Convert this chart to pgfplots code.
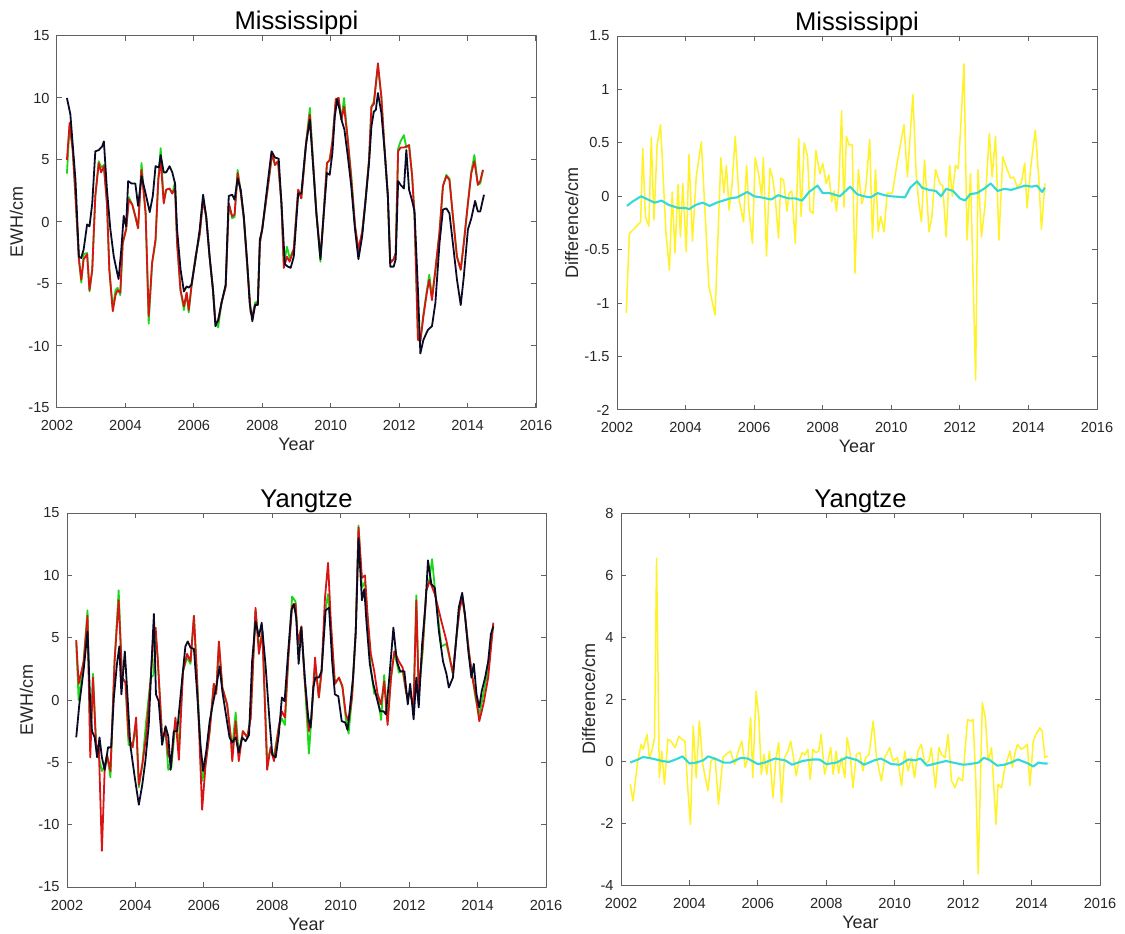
\documentclass[border=0pt]{standalone}
\usepackage{fontspec}
\setmainfont{Liberation Sans}
\usepackage{pgfplots}
\pgfplotsset{compat=1.18}

\definecolor{mgreen}{rgb}{0.1,0.85,0.1}
\definecolor{mred}{rgb}{0.85,0.08,0.08}
\definecolor{mblack}{rgb}{0.04,0.04,0.14}
\definecolor{myellow}{rgb}{1,0.95,0.15}
\definecolor{mcyan}{rgb}{0.2,0.85,0.85}
\definecolor{axgray}{rgb}{0.38,0.38,0.38}
\definecolor{txtgray}{rgb}{0.15,0.15,0.15}

\pgfplotsset{
  matstyle/.style={
    scale only axis, width=239.5pt, height=186.5pt,
    anchor=south west,
    xmin=2002, xmax=2016, xtick={2002,2004,...,2016},
    tick align=inside, tick pos=both, major tick length=2.3pt,
    axis line style={axgray, line width=0.5pt},
    every tick/.style={axgray, line width=0.5pt},
    /pgf/number format/assume math mode=true,
    /pgf/number format/1000 sep={},
    ticklabel style={font=\fontsize{7.3}{8}\selectfont, text=txtgray},
    xticklabel style={anchor=base, yshift=-11.5pt, inner sep=0pt},
    yticklabel style={anchor=east, inner sep=0pt, xshift=-3.5pt},
    every axis title/.style={font=\fontsize{12.8}{14}\selectfont, at={(axis description cs:0.5,1)}, anchor=base, yshift=3pt},
    every axis x label/.style={font=\fontsize{9}{10}\selectfont, text=txtgray, at={(axis description cs:0.5,0)}, anchor=base, yshift=-21.5pt},
    xlabel={Year},
    line join=round,
  },
  ylab/.style={every axis y label/.style={font=\fontsize{9}{10}\selectfont, text=txtgray,
    at={([xshift=-#1]axis description cs:0,0.5)}, rotate=90, anchor=base}},
  gline/.style={mgreen, line width=0.9pt},
  rline/.style={mred, line width=0.9pt},
  kline/.style={mblack, line width=0.9pt},
  yline/.style={myellow, line width=0.75pt},
  cline/.style={mcyan, line width=1.05pt},
}

\begin{document}
\begin{tikzpicture}
\useasboundingbox (0,0) rectangle (562.5pt,466.5pt);

% ---------- top left: Mississippi EWH ----------
\begin{axis}[matstyle, at={(28.5pt,262.5pt)}, height=186pt,
  ymin=-15, ymax=15, ytick={-15,-10,...,15},
  title={Mississippi}, ylabel={EWH/cm}, ylab=17pt]
\addplot[gline] coordinates {(2002.29,3.9)(2002.37,7.8)(2002.46,5.8)(2002.54,2.1)(2002.64,-3.0)(2002.71,-4.9)(2002.78,-2.6)(2002.88,-2.5)(2002.95,-5.6)(2003.03,-3.85)(2003.12,2.1)(2003.22,4.9)(2003.29,4.4)(2003.37,4.6)(2003.46,1.5)(2003.53,-3.85)(2003.63,-7.0)(2003.71,-5.5)(2003.77,-5.3)(2003.85,-5.9)(2003.92,-1.7)(2004.02,-0.6)(2004.10,2.0)(2004.20,1.4)(2004.29,0.45)(2004.37,-0.5)(2004.47,4.75)(2004.59,0.7)(2004.68,-8.2)(2004.78,-3.3)(2004.88,-1.6)(2004.96,3.4)(2005.03,5.95)(2005.12,1.7)(2005.19,2.6)(2005.29,2.7)(2005.37,2.3)(2005.45,3.2)(2005.51,-1.7)(2005.61,-5.5)(2005.71,-7.1)(2005.79,-5.7)(2005.85,-7.3)(2005.93,-5.2)(2006.05,-2.8)(2006.17,-1.0)(2006.27,1.8)(2006.36,0.45)(2006.46,-2.8)(2006.56,-5.5)(2006.63,-8.1)(2006.71,-8.5)(2006.81,-6.5)(2006.93,-5.2)(2007.02,1.5)(2007.12,0.3)(2007.19,0.4)(2007.28,4.2)(2007.37,2.4)(2007.46,0.3)(2007.56,-3.5)(2007.66,-7.3)(2007.71,-7.6)(2007.79,-6.5)(2007.87,-6.4)(2007.93,-1.7)(2008.0,-0.5)(2008.10,1.5)(2008.29,5.5)(2008.37,4.6)(2008.46,4.9)(2008.56,1.5)(2008.63,-3.5)(2008.72,-2.0)(2008.80,-2.9)(2008.92,-2.2)(2009.05,2.6)(2009.14,1.9)(2009.29,6.6)(2009.39,9.2)(2009.48,5.0)(2009.58,0.8)(2009.70,-3.2)(2009.79,0.45)(2009.89,4.75)(2009.97,5.0)(2010.05,6.5)(2010.15,9.9)(2010.23,10.0)(2010.31,8.25)(2010.39,10.0)(2010.50,6.6)(2010.60,3.8)(2010.71,-0.3)(2010.81,-2.4)(2010.92,-0.8)(2011.01,1.5)(2011.12,5.0)(2011.19,9.3)(2011.26,9.7)(2011.38,12.5)(2011.48,10.1)(2011.58,5.6)(2011.67,2.1)(2011.74,-3.2)(2011.84,-3.0)(2011.90,-2.5)(2011.97,5.9)(2012.04,6.5)(2012.14,7.0)(2012.21,6.0)(2012.29,6.2)(2012.38,3.7)(2012.45,0.5)(2012.55,-9.4)(2012.62,-9.6)(2012.71,-7.4)(2012.81,-5.5)(2012.88,-4.25)(2012.96,-6.0)(2013.06,-3.85)(2013.18,-0.8)(2013.28,2.9)(2013.38,3.8)(2013.47,3.5)(2013.57,0.5)(2013.69,-2.8)(2013.80,-3.85)(2013.89,-1.7)(2014.01,1.5)(2014.11,4.1)(2014.20,5.4)(2014.30,3.0)(2014.37,3.1)(2014.45,4.2)};
\addplot[rline] coordinates {(2002.29,5.0)(2002.37,8.0)(2002.46,5.8)(2002.54,2.1)(2002.64,-3.0)(2002.71,-4.65)(2002.78,-3.0)(2002.88,-2.6)(2002.95,-5.5)(2003.03,-3.85)(2003.12,2.1)(2003.22,4.75)(2003.29,4.0)(2003.37,4.5)(2003.46,1.5)(2003.53,-3.85)(2003.63,-7.2)(2003.71,-5.9)(2003.77,-5.5)(2003.85,-5.7)(2003.92,-1.7)(2004.02,-0.6)(2004.10,1.8)(2004.20,1.4)(2004.29,0.45)(2004.37,-0.5)(2004.47,4.2)(2004.59,0.7)(2004.68,-7.6)(2004.78,-3.3)(2004.88,-1.4)(2004.96,3.4)(2005.03,5.0)(2005.12,1.5)(2005.19,2.6)(2005.29,2.7)(2005.37,2.3)(2005.45,2.7)(2005.51,-1.7)(2005.61,-5.5)(2005.71,-6.8)(2005.79,-5.7)(2005.85,-7.1)(2005.93,-5.2)(2006.05,-2.8)(2006.17,-1.0)(2006.27,1.8)(2006.36,0.45)(2006.46,-2.8)(2006.56,-5.5)(2006.63,-8.1)(2006.71,-8.0)(2006.81,-6.5)(2006.93,-5.2)(2007.02,1.5)(2007.12,0.45)(2007.19,0.6)(2007.28,3.95)(2007.37,2.4)(2007.46,0.3)(2007.56,-3.5)(2007.66,-7.2)(2007.71,-7.6)(2007.79,-6.7)(2007.87,-6.5)(2007.93,-1.7)(2008.0,-0.5)(2008.10,1.5)(2008.29,5.6)(2008.37,4.6)(2008.46,4.9)(2008.56,1.5)(2008.63,-3.7)(2008.72,-2.8)(2008.80,-3.2)(2008.92,-2.2)(2009.05,2.6)(2009.14,1.9)(2009.29,6.6)(2009.39,8.65)(2009.48,5.0)(2009.58,0.8)(2009.70,-2.8)(2009.79,0.45)(2009.89,4.75)(2009.97,5.0)(2010.05,6.5)(2010.15,9.9)(2010.23,10.0)(2010.31,8.25)(2010.39,9.3)(2010.50,6.6)(2010.60,3.5)(2010.71,-0.3)(2010.81,-2.2)(2010.92,-0.8)(2011.01,1.5)(2011.12,5.0)(2011.19,9.3)(2011.26,9.5)(2011.38,12.8)(2011.48,10.1)(2011.58,5.6)(2011.67,2.1)(2011.74,-3.3)(2011.84,-3.0)(2011.90,-2.5)(2011.97,5.7)(2012.04,6.0)(2012.14,6.0)(2012.21,6.1)(2012.29,6.2)(2012.38,3.7)(2012.45,0.5)(2012.55,-9.5)(2012.62,-9.6)(2012.71,-7.6)(2012.81,-5.7)(2012.88,-4.65)(2012.96,-6.3)(2013.06,-3.85)(2013.18,-0.8)(2013.28,2.9)(2013.38,3.7)(2013.47,3.4)(2013.57,0.5)(2013.69,-2.8)(2013.80,-3.85)(2013.89,-1.7)(2014.01,1.5)(2014.11,3.95)(2014.20,4.9)(2014.30,3.0)(2014.37,3.3)(2014.45,4.2)};
\addplot[kline] coordinates {(2002.29,10.0)(2002.39,8.7)(2002.54,3.4)(2002.64,-2.8)(2002.71,-2.9)(2002.78,-2.2)(2002.88,-0.2)(2002.95,-0.35)(2003.03,1.5)(2003.12,5.7)(2003.22,5.8)(2003.32,6.1)(2003.37,6.5)(2003.46,2.6)(2003.56,-0.6)(2003.66,-2.8)(2003.76,-4.1)(2003.80,-4.6)(2003.88,-2.2)(2003.95,0.5)(2004.02,-0.35)(2004.08,3.3)(2004.18,3.1)(2004.29,3.1)(2004.37,1.3)(2004.47,3.7)(2004.59,2.3)(2004.71,0.8)(2004.80,2.1)(2004.88,4.5)(2004.98,4.4)(2005.03,5.4)(2005.12,4.0)(2005.19,4.0)(2005.29,4.5)(2005.37,4.0)(2005.45,3.1)(2005.51,-0.6)(2005.61,-3.8)(2005.71,-5.6)(2005.79,-5.2)(2005.85,-5.3)(2005.93,-5.05)(2006.05,-3.0)(2006.17,-0.6)(2006.27,2.2)(2006.36,0.45)(2006.46,-2.8)(2006.56,-5.5)(2006.63,-8.4)(2006.71,-7.9)(2006.81,-6.5)(2006.93,-5.05)(2007.02,2.1)(2007.12,2.2)(2007.19,1.8)(2007.28,3.5)(2007.37,2.6)(2007.46,0.45)(2007.56,-3.3)(2007.63,-6.5)(2007.71,-8.0)(2007.79,-6.7)(2007.87,-6.7)(2007.93,-1.4)(2008.0,-0.6)(2008.10,1.8)(2008.27,5.7)(2008.37,5.2)(2008.48,5.1)(2008.56,1.5)(2008.66,-3.4)(2008.75,-3.6)(2008.83,-3.7)(2008.92,-2.8)(2009.05,2.3)(2009.14,2.3)(2009.27,6.1)(2009.39,8.25)(2009.48,4.75)(2009.58,0.7)(2009.70,-3.0)(2009.79,0.45)(2009.89,3.95)(2009.97,3.8)(2010.05,5.6)(2010.12,8.5)(2010.19,9.9)(2010.26,9.05)(2010.33,8.1)(2010.40,7.45)(2010.50,5.3)(2010.60,2.9)(2010.71,-0.6)(2010.81,-3.0)(2010.92,-1.15)(2011.01,1.5)(2011.12,4.75)(2011.19,7.7)(2011.26,8.9)(2011.32,9.05)(2011.38,10.4)(2011.48,8.8)(2011.58,5.6)(2011.67,2.1)(2011.74,-3.6)(2011.84,-3.6)(2011.90,-3.0)(2011.97,3.3)(2012.04,3.0)(2012.14,2.7)(2012.21,5.8)(2012.29,2.6)(2012.38,1.7)(2012.45,0.85)(2012.55,-5.5)(2012.62,-10.6)(2012.71,-9.5)(2012.84,-8.7)(2012.96,-8.4)(2013.06,-6.5)(2013.18,-1.7)(2013.28,1.0)(2013.38,1.1)(2013.47,0.7)(2013.57,-1.7)(2013.69,-4.65)(2013.80,-6.7)(2013.89,-4.4)(2014.01,-0.6)(2014.11,0.3)(2014.22,1.7)(2014.30,0.85)(2014.37,0.85)(2014.48,2.2)};
\end{axis}

% ---------- top right: Mississippi difference ----------
\begin{axis}[matstyle, at={(308.5pt,261.5pt)}, width=240pt, height=187pt,
  ymin=-2, ymax=1.5, ytick={-2,-1.5,...,1.5},
  title={Mississippi}, ylabel={Difference/cm}, ylab=19.5pt]
\addplot[yline] coordinates {(2002.27,-1.09)(2002.36,-0.35)(2002.69,-0.24)(2002.75,0.45)(2002.83,-0.19)(2002.93,-0.28)(2003.00,0.55)(2003.08,-0.22)(2003.17,0.48)(2003.27,0.67)(2003.37,0.03)(2003.43,-0.35)(2003.53,-0.69)(2003.61,0.04)(2003.69,-0.53)(2003.78,0.11)(2003.85,-0.38)(2003.92,0.12)(2004.02,-0.52)(2004.10,0.39)(2004.20,-0.42)(2004.31,0.18)(2004.46,0.51)(2004.59,-0.28)(2004.68,-0.84)(2004.86,-1.11)(2005.03,0.36)(2005.12,0.03)(2005.19,0.29)(2005.27,-0.13)(2005.35,0.09)(2005.45,0.56)(2005.56,-0.03)(2005.69,-0.24)(2005.78,0.29)(2005.85,-0.13)(2005.95,-0.44)(2006.03,0.36)(2006.13,0.21)(2006.22,0.0)(2006.27,0.36)(2006.36,-0.56)(2006.46,0.26)(2006.54,0.17)(2006.61,0.0)(2006.71,-0.39)(2006.78,0.17)(2006.86,0.15)(2006.96,-0.14)(2007.02,0.03)(2007.10,0.05)(2007.20,-0.44)(2007.30,0.54)(2007.37,-0.19)(2007.46,0.5)(2007.56,0.37)(2007.63,-0.14)(2007.72,-0.16)(2007.80,0.43)(2007.92,0.21)(2008.0,0.31)(2008.10,0.12)(2008.18,0.2)(2008.26,-0.05)(2008.33,0.05)(2008.40,-0.14)(2008.47,0.1)(2008.55,0.8)(2008.62,-0.1)(2008.69,0.56)(2008.77,0.48)(2008.86,0.48)(2008.94,-0.72)(2009.04,0.25)(2009.14,-0.07)(2009.25,0.06)(2009.37,0.53)(2009.45,-0.39)(2009.54,0.25)(2009.62,-0.33)(2009.69,-0.19)(2009.79,-0.33)(2009.88,0.03)(2010.03,0.03)(2010.17,0.31)(2010.37,0.67)(2010.47,0.18)(2010.63,0.95)(2010.73,0.18)(2010.80,-0.05)(2010.88,-0.24)(2010.97,0.34)(2011.10,-0.33)(2011.18,-0.2)(2011.29,0.25)(2011.42,0.12)(2011.50,0.1)(2011.60,-0.38)(2011.70,0.29)(2011.78,0.0)(2011.87,0.29)(2011.95,0.26)(2012.02,0.62)(2012.12,1.24)(2012.21,-0.41)(2012.31,0.21)(2012.46,-1.72)(2012.53,0.25)(2012.63,-0.38)(2012.73,-0.1)(2012.86,0.59)(2012.94,0.18)(2013.04,0.56)(2013.14,-0.41)(2013.25,0.37)(2013.38,0.25)(2013.48,0.17)(2013.57,0.18)(2013.67,0.09)(2013.79,0.12)(2013.89,0.31)(2013.96,-0.11)(2014.06,0.25)(2014.20,0.62)(2014.30,0.18)(2014.38,-0.31)(2014.48,0.12)};
\addplot[cline] coordinates {(2002.29,-0.09)(2002.45,-0.05)(2002.70,0.0)(2002.90,-0.03)(2003.10,-0.06)(2003.30,-0.04)(2003.50,-0.08)(2003.80,-0.11)(2004.00,-0.11)(2004.10,-0.12)(2004.30,-0.08)(2004.50,-0.06)(2004.70,-0.09)(2004.90,-0.06)(2005.10,-0.04)(2005.30,-0.02)(2005.50,-0.01)(2005.80,0.04)(2006.00,0.0)(2006.20,-0.01)(2006.50,-0.03)(2006.70,0.01)(2007.00,-0.02)(2007.20,-0.02)(2007.40,-0.04)(2007.60,0.04)(2007.85,0.10)(2008.00,0.03)(2008.20,0.03)(2008.50,0.0)(2008.80,0.09)(2009.00,0.02)(2009.20,0.0)(2009.40,-0.01)(2009.60,0.03)(2009.80,0.01)(2010.00,0.0)(2010.40,-0.01)(2010.55,0.08)(2010.75,0.14)(2010.90,0.08)(2011.10,0.06)(2011.30,0.05)(2011.45,0.0)(2011.60,0.07)(2011.80,0.05)(2012.00,-0.02)(2012.15,-0.04)(2012.30,0.02)(2012.50,0.03)(2012.70,0.07)(2012.90,0.12)(2013.10,0.05)(2013.30,0.07)(2013.50,0.06)(2013.70,0.08)(2013.90,0.10)(2014.10,0.09)(2014.25,0.10)(2014.40,0.04)(2014.48,0.08)};
\end{axis}

% ---------- bottom left: Yangtze EWH ----------
\begin{axis}[matstyle, at={(33.5pt,23pt)}, height=187pt,
  ymin=-15, ymax=15, ytick={-15,-10,...,15},
  title={Yangtze}, ylabel={EWH/cm}, ylab=17pt]
\addplot[gline] coordinates {(2002.27,4.6)(2002.34,0.0)(2002.49,3.3)(2002.60,7.2)(2002.68,-3.5)(2002.76,2.1)(2002.85,-3.6)(2002.93,-4.6)(2003.02,-5.7)(2003.10,-5.3)(2003.17,-4.4)(2003.27,-6.2)(2003.39,3.1)(2003.51,8.8)(2003.61,1.8)(2003.71,1.4)(2003.80,-3.6)(2003.92,-3.6)(2004.02,-2.0)(2004.10,-7.0)(2004.20,-5.2)(2004.31,-1.8)(2004.45,1.8)(2004.53,2.0)(2004.59,5.2)(2004.65,3.4)(2004.78,-3.0)(2004.88,-2.5)(2004.96,-5.6)(2005.05,-5.4)(2005.17,-1.8)(2005.27,-3.5)(2005.39,2.3)(2005.51,3.4)(2005.61,2.9)(2005.71,6.75)(2005.80,1.8)(2005.95,-6.5)(2006.05,-5.2)(2006.17,-2.5)(2006.29,1.3)(2006.36,0.5)(2006.44,4.5)(2006.54,1.0)(2006.68,-0.35)(2006.78,-2.8)(2006.83,-3.8)(2006.93,-1.0)(2007.02,-4.4)(2007.14,-2.5)(2007.27,-3.0)(2007.37,-1.4)(2007.51,7.2)(2007.61,4.2)(2007.71,5.5)(2007.85,-4.8)(2007.95,-4.0)(2008.05,-4.5)(2008.20,-2.0)(2008.28,-1.5)(2008.37,-2.0)(2008.47,3.5)(2008.58,8.3)(2008.68,7.9)(2008.75,4.5)(2008.85,5.9)(2008.95,1.5)(2009.07,-4.3)(2009.14,-1.6)(2009.25,2.8)(2009.30,1.8)(2009.36,0.2)(2009.44,2.3)(2009.54,7.0)(2009.63,8.5)(2009.71,6.0)(2009.83,1.3)(2009.95,1.8)(2010.05,1.0)(2010.15,-1.5)(2010.23,-2.7)(2010.33,0.2)(2010.44,5.5)(2010.52,14.0)(2010.62,9.0)(2010.71,9.5)(2010.78,6.9)(2010.88,2.5)(2010.98,0.5)(2011.08,0.45)(2011.18,-1.6)(2011.27,2.0)(2011.37,-1.7)(2011.47,1.8)(2011.57,3.9)(2011.70,2.2)(2011.81,2.3)(2011.92,0.5)(2012.03,0.45)(2012.13,-0.4)(2012.21,8.4)(2012.28,0.5)(2012.40,4.0)(2012.50,8.75)(2012.60,9.8)(2012.67,11.3)(2012.75,9.0)(2012.94,4.3)(2013.09,4.5)(2013.28,2.1)(2013.38,5.0)(2013.47,7.2)(2013.55,8.4)(2013.63,6.8)(2013.75,3.8)(2013.85,1.8)(2013.95,0.0)(2014.05,-1.2)(2014.17,0.5)(2014.31,2.5)(2014.46,6.0)};
\addplot[rline] coordinates {(2002.27,4.8)(2002.34,1.3)(2002.49,3.1)(2002.60,6.75)(2002.68,-4.6)(2002.76,1.8)(2002.85,-3.6)(2002.93,-3.8)(2003.02,-12.1)(2003.10,-5.7)(2003.17,-4.4)(2003.27,-5.7)(2003.39,3.1)(2003.51,8.0)(2003.61,1.8)(2003.71,1.4)(2003.80,-3.0)(2003.92,-3.8)(2004.02,-1.4)(2004.10,-6.8)(2004.20,-5.2)(2004.31,-3.0)(2004.45,1.8)(2004.53,5.5)(2004.59,5.8)(2004.65,3.4)(2004.78,-3.0)(2004.88,-2.5)(2004.96,-4.4)(2005.05,-4.9)(2005.17,-1.4)(2005.27,-4.8)(2005.39,2.3)(2005.51,3.7)(2005.61,3.1)(2005.71,6.75)(2005.80,1.8)(2005.95,-8.8)(2006.05,-5.2)(2006.17,-2.5)(2006.29,1.3)(2006.36,0.5)(2006.44,4.7)(2006.54,1.0)(2006.68,-0.35)(2006.78,-2.8)(2006.83,-4.9)(2006.93,-1.7)(2007.02,-4.9)(2007.14,-2.5)(2007.27,-3.0)(2007.37,-1.4)(2007.51,7.4)(2007.61,3.7)(2007.71,5.5)(2007.85,-5.6)(2007.95,-3.8)(2008.05,-4.9)(2008.20,-2.0)(2008.28,-0.9)(2008.37,-1.4)(2008.47,3.5)(2008.58,7.55)(2008.68,7.7)(2008.75,4.5)(2008.85,5.9)(2008.95,1.5)(2009.07,-2.5)(2009.14,-1.6)(2009.25,3.4)(2009.30,1.8)(2009.36,0.2)(2009.44,2.3)(2009.54,8.2)(2009.63,11.0)(2009.71,6.35)(2009.83,1.3)(2009.95,1.8)(2010.05,1.1)(2010.15,-1.15)(2010.23,-1.7)(2010.33,0.2)(2010.44,5.5)(2010.52,13.85)(2010.62,9.8)(2010.71,10.0)(2010.78,6.9)(2010.88,3.7)(2010.98,2.3)(2011.08,0.45)(2011.18,-0.35)(2011.27,1.5)(2011.37,-2.0)(2011.47,1.8)(2011.57,3.9)(2011.70,3.1)(2011.81,2.6)(2011.92,0.5)(2012.03,0.45)(2012.13,-0.4)(2012.21,8.0)(2012.28,0.5)(2012.40,4.5)(2012.50,8.75)(2012.60,9.55)(2012.75,8.5)(2012.94,6.35)(2013.09,4.75)(2013.28,2.1)(2013.38,5.0)(2013.47,7.2)(2013.55,8.2)(2013.63,6.8)(2013.75,3.8)(2013.85,1.8)(2013.95,0.3)(2014.05,-1.7)(2014.17,-0.35)(2014.31,1.8)(2014.46,6.2)};
\addplot[kline] coordinates {(2002.27,-3.0)(2002.36,-0.35)(2002.49,2.5)(2002.60,5.5)(2002.68,-0.35)(2002.73,-2.5)(2002.81,-3.0)(2002.88,-4.6)(2002.95,-3.0)(2003.02,-4.6)(2003.10,-5.6)(2003.20,-3.8)(2003.29,-3.8)(2003.37,0.2)(2003.46,2.9)(2003.53,4.3)(2003.59,0.45)(2003.69,3.9)(2003.76,0.7)(2003.85,-3.6)(2003.98,-6.2)(2004.10,-8.4)(2004.20,-6.8)(2004.29,-4.9)(2004.39,-2.0)(2004.47,2.9)(2004.54,6.9)(2004.60,0.45)(2004.68,-0.1)(2004.78,-3.6)(2004.88,-2.1)(2004.96,-2.9)(2005.03,-5.6)(2005.12,-2.5)(2005.22,-2.5)(2005.37,1.8)(2005.46,4.3)(2005.53,4.7)(2005.61,4.2)(2005.71,4.1)(2005.80,0.7)(2005.90,-3.6)(2005.98,-5.7)(2006.07,-4.1)(2006.17,-1.7)(2006.26,-0.35)(2006.36,1.0)(2006.46,2.7)(2006.54,0.7)(2006.63,-0.9)(2006.75,-3.0)(2006.83,-3.4)(2006.93,-3.0)(2007.02,-4.2)(2007.12,-3.0)(2007.22,-3.3)(2007.32,-2.8)(2007.41,3.1)(2007.51,6.3)(2007.61,5.1)(2007.69,6.2)(2007.80,2.9)(2007.92,-1.7)(2008.0,-4.4)(2008.10,-4.6)(2008.19,-2.8)(2008.28,0.2)(2008.36,-0.1)(2008.46,3.7)(2008.56,7.2)(2008.63,7.7)(2008.70,6.6)(2008.77,2.9)(2008.85,5.8)(2008.95,1.8)(2009.05,-1.4)(2009.12,-2.2)(2009.20,1.0)(2009.26,1.8)(2009.36,1.8)(2009.44,2.3)(2009.56,7.2)(2009.66,7.4)(2009.75,3.1)(2009.83,0.45)(2009.93,0.3)(2010.03,-1.7)(2010.13,-1.8)(2010.20,-2.4)(2010.26,-0.9)(2010.36,1.8)(2010.44,5.5)(2010.52,13.0)(2010.62,8.0)(2010.69,8.9)(2010.75,6.35)(2010.85,2.9)(2010.95,1.3)(2011.05,0.2)(2011.15,-0.9)(2011.25,-0.9)(2011.32,-1.15)(2011.42,1.8)(2011.54,5.8)(2011.64,3.1)(2011.74,2.3)(2011.86,2.3)(2011.96,-0.35)(2012.03,1.3)(2012.13,-1.55)(2012.21,1.8)(2012.28,-0.6)(2012.38,4.5)(2012.48,7.7)(2012.55,11.2)(2012.65,9.3)(2012.75,9.0)(2012.87,5.5)(2012.99,3.1)(2013.09,2.1)(2013.16,1.0)(2013.28,1.8)(2013.38,5.0)(2013.45,7.4)(2013.55,8.6)(2013.63,6.9)(2013.73,3.9)(2013.82,1.8)(2013.89,2.9)(2013.97,0.45)(2014.05,-0.6)(2014.12,0.7)(2014.22,1.8)(2014.31,3.1)(2014.39,5.3)(2014.46,5.9)};
\end{axis}

% ---------- bottom right: Yangtze difference ----------
\begin{axis}[matstyle, at={(310.5pt,24pt)}, height=186pt,
  ymin=-4, ymax=8, ytick={-4,-2,...,8},
  title={Yangtze}, ylabel={Difference/cm}, ylab=13pt]
\addplot[yline] coordinates {(2002.27,-0.75)(2002.35,-1.29)(2002.49,0.0)(2002.59,0.54)(2002.65,0.38)(2002.76,0.86)(2002.83,0.1)(2002.90,0.32)(2002.98,0.75)(2003.04,6.54)(2003.12,-0.54)(2003.19,0.32)(2003.27,-0.75)(2003.37,0.7)(2003.46,0.64)(2003.58,0.43)(2003.69,0.8)(2003.78,0.7)(2003.87,0.64)(2003.95,-0.86)(2004.03,-2.04)(2004.11,1.13)(2004.20,-0.54)(2004.29,1.29)(2004.39,-0.11)(2004.54,-0.96)(2004.63,0.0)(2004.75,0.11)(2004.85,-1.39)(2004.98,0.11)(2005.07,0.21)(2005.20,0.32)(2005.32,-0.11)(2005.43,0.32)(2005.53,0.64)(2005.63,-0.21)(2005.71,0.11)(2005.79,1.39)(2005.85,-0.54)(2005.95,2.25)(2006.03,1.39)(2006.10,-0.43)(2006.18,0.21)(2006.26,-0.43)(2006.34,0.32)(2006.44,-1.18)(2006.53,0.11)(2006.61,0.59)(2006.69,-1.34)(2006.78,0.11)(2006.88,0.32)(2006.96,0.64)(2007.04,0.11)(2007.12,-0.48)(2007.20,0.0)(2007.30,0.27)(2007.37,0.2)(2007.46,0.38)(2007.53,-0.59)(2007.61,0.38)(2007.69,0.27)(2007.78,0.32)(2007.85,0.86)(2007.95,-0.43)(2008.05,0.0)(2008.13,0.43)(2008.20,-0.43)(2008.29,0.32)(2008.36,-0.4)(2008.44,0.11)(2008.54,-0.54)(2008.61,0.75)(2008.70,0.21)(2008.78,-0.86)(2008.88,0.21)(2008.98,0.27)(2009.07,-0.32)(2009.15,0.11)(2009.25,0.21)(2009.37,1.29)(2009.47,0.11)(2009.61,-0.64)(2009.71,0.11)(2009.85,0.43)(2009.95,0.0)(2010.08,0.11)(2010.20,-0.8)(2010.29,0.32)(2010.39,-0.32)(2010.49,0.11)(2010.58,-0.54)(2010.68,0.32)(2010.78,0.54)(2010.88,-0.11)(2011.00,0.0)(2011.07,0.43)(2011.19,-0.86)(2011.29,0.43)(2011.37,0.21)(2011.47,0.11)(2011.56,0.86)(2011.66,-0.64)(2011.76,-0.86)(2011.86,-0.54)(2011.98,-0.64)(2012.07,0.54)(2012.13,1.34)(2012.22,1.29)(2012.29,1.34)(2012.37,-0.64)(2012.44,-3.64)(2012.56,1.88)(2012.65,1.39)(2012.73,0.0)(2012.83,0.43)(2012.96,-2.04)(2013.02,-0.75)(2013.12,-0.86)(2013.22,-0.21)(2013.37,0.32)(2013.44,-0.21)(2013.52,0.27)(2013.59,0.54)(2013.69,0.38)(2013.78,0.43)(2013.88,0.54)(2013.95,-0.8)(2014.05,0.64)(2014.13,0.86)(2014.24,1.07)(2014.31,0.96)(2014.39,0.11)(2014.47,0.16)};
\addplot[cline] coordinates {(2002.27,-0.05)(2002.50,0.05)(2002.65,0.13)(2002.90,0.08)(2003.20,0.0)(2003.40,-0.03)(2003.60,0.05)(2003.80,0.15)(2004.00,-0.08)(2004.20,-0.05)(2004.40,0.02)(2004.55,0.15)(2004.80,0.05)(2005.00,-0.05)(2005.20,-0.05)(2005.50,0.10)(2005.70,0.08)(2006.00,-0.10)(2006.20,-0.05)(2006.50,0.08)(2006.80,0.02)(2007.00,-0.12)(2007.30,0.0)(2007.60,0.05)(2007.80,0.05)(2008.00,-0.10)(2008.30,-0.05)(2008.60,0.12)(2008.90,0.03)(2009.10,-0.12)(2009.40,0.02)(2009.60,0.08)(2009.90,-0.10)(2010.15,-0.12)(2010.40,0.05)(2010.60,0.02)(2010.75,0.08)(2010.95,-0.15)(2011.20,-0.08)(2011.50,0.0)(2011.70,-0.05)(2012.00,-0.12)(2012.20,-0.10)(2012.45,-0.05)(2012.60,0.10)(2012.75,0.05)(2013.00,-0.15)(2013.20,-0.12)(2013.40,-0.05)(2013.60,0.05)(2013.90,-0.08)(2014.05,-0.18)(2014.20,-0.05)(2014.35,-0.08)(2014.47,-0.08)};
\end{axis}
\end{tikzpicture}
\end{document}
